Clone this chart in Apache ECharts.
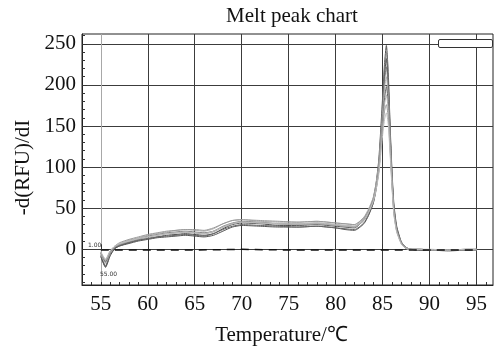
<!DOCTYPE html>
<html>
<head>
<meta charset="utf-8">
<script src="https://cdn.jsdelivr.net/npm/echarts@6/dist/echarts.min.js"></script>
<style>
html,body{margin:0;padding:0;background:#fff;}
#chart{width:500px;height:351px;}
</style>
</head>
<body>
<div id="chart"></div>
<script>
// ---- data ----
var temps = [55, 55.5, 56, 56.5, 57, 58, 59, 60, 61, 62, 63, 64, 65, 66, 67, 68, 69, 70, 72, 74, 76, 78, 80, 81, 82, 83, 83.5, 84, 84.3, 84.6, 84.9, 85.2, 85.4, 85.6, 85.8, 86, 86.2, 86.5, 87, 87.5, 88, 89, 90, 92, 94, 95];
var curve1 = [-9,-22,-8,1,4,8,11,13,15,17,18,19,18,17,19,25,30,32,31,29,29,30,28,27,26,36,46,62,80,110,165,225,248,215,150,95,55,28,9,2,0,-1,-1,-2,-1,-1];
var curve2 = [-7,-20,-6,2,5,9,12,15,17,19,20,21,20,19,22,28,32,34,33,31,31,32,30,29,28,37,47,60,78,105,158,218,240,208,145,90,52,26,8,1,0,0,-1,-1,-1,0];
var curve3 = [-8,-21,-6,1,4,7,10,12,14,15,16,17,16,15,17,22,27,29,28,27,27,28,26,24,23,31,41,56,74,102,153,210,232,200,140,88,50,25,8,2,0,-1,-1,-1,-1,-1];
var curve4 = [-5,-16,-4,3,6,10,13,16,18,20,21,22,21,20,22,27,31,33,32,31,30,31,29,28,27,35,45,60,77,103,150,205,222,195,140,88,50,26,8,2,0,0,-1,-1,0,0];
var curve5 = [-6,-17,-5,3,7,11,14,17,19,21,23,24,23,22,25,31,35,36,34,33,33,34,32,31,30,39,49,63,80,105,150,196,210,186,135,85,48,24,8,2,0,0,-1,-1,-1,-1];
var curve6 = [-4,-15,-3,2,5,8,11,13,15,16,17,18,17,16,19,24,28,30,29,28,27,28,26,25,24,32,42,56,72,96,140,183,198,178,130,82,47,24,7,1,0,-1,-1,-1,-1,0];
var curve7 = [-5,-14,-3,3,6,10,13,15,17,19,20,21,20,19,21,27,31,33,32,31,30,31,29,28,27,35,45,59,74,96,138,176,188,170,125,80,45,22,7,1,0,0,-1,-1,0,0];
var curve8 = [-4,-13,-2,4,8,12,15,18,20,22,23,24,24,23,26,31,35,36,35,34,33,34,32,31,30,38,47,60,75,96,134,168,176,160,120,78,44,22,7,1,0,0,-1,-1,-1,-1];
var curve9 = [-3,-12,-2,4,7,10,13,15,17,19,20,21,20,19,22,27,31,33,32,31,31,32,30,29,28,36,45,58,72,92,128,158,166,152,115,75,42,21,6,1,0,0,0,-1,0,0];
var curves = [curve1, curve2, curve3, curve4, curve5, curve6, curve7, curve8, curve9];
var curveColors = ['#4a4a4a', '#8a8a8a', '#555555', '#777777', '#aaaaaa', '#666666', '#b0b0b0', '#9a9a9a', '#bdbdbd'];
var negTemps = [55, 60, 65, 70, 75, 80, 85, 90, 95];
var negValues = [-1, -1, -1, 0, -1, -1, -1, -1, -1];
var xTicks = [55, 60, 65, 70, 75, 80, 85, 90, 95];
var xMinorTicks = [];
for (var t = 53; t <= 96; t++) xMinorTicks.push(t);
var yTicks = [0, 50, 100, 150, 200, 250];
var yMinorTicks = [];
for (var v = -40; v <= 260; v += 10) yMinorTicks.push(v);

var chartTitle = 'Melt peak chart';
var xName = 'Temperature/\u2103';
var yName = '-d(RFU)/dI';

function zip(xs, ys) { return xs.map(function (x, i) { return [x, ys[i]]; }); }

var serif = 'Liberation Serif';
var X_MIN = 53, X_MAX = 96.75, Y_MIN = -43.5, Y_MAX = 262;

var series = curves.map(function (c, i) {
  return {
    type: 'line', xAxisIndex: 0, yAxisIndex: 0, data: zip(temps, c),
    showSymbol: false, symbol: 'none', smooth: 0.2,
    lineStyle: { color: curveColors[i], width: 1 }, silent: true, z: 3
  };
});
series.push({
  type: 'line', xAxisIndex: 0, yAxisIndex: 0, data: zip(negTemps, negValues),
  symbol: 'none', lineStyle: { color: '#111', width: 1.5, type: [8, 6] }, z: 4, silent: true
});

var chart = echarts.init(document.getElementById('chart'), null, { renderer: 'canvas' });
chart.setOption({
  animation: false,
  backgroundColor: '#fff',
  title: {
    text: chartTitle, left: 287, top: 1, textAlign: 'center',
    textStyle: { fontFamily: serif, fontSize: 21, fontWeight: 'normal', color: '#111' }
  },
  grid: { left: 82, right: 7, top: 34, bottom: 64, show: true, borderColor: '#222', borderWidth: 1, backgroundColor: 'transparent' },
  xAxis: [
    {
      type: 'value', min: X_MIN, max: X_MAX, position: 'bottom',
      axisLine: { show: true, onZero: false, lineStyle: { color: '#222' } },
      axisTick: { show: true, inside: true, length: 3, customValues: xMinorTicks, lineStyle: { color: '#333' } },
      axisLabel: { show: false }, splitLine: { show: false }
    },
    {
      type: 'value', min: X_MIN, max: X_MAX, position: 'bottom',
      axisLine: { show: false },
      axisTick: { show: true, inside: true, length: 5, customValues: xTicks, lineStyle: { color: '#333' } },
      axisLabel: { customValues: xTicks, fontFamily: serif, fontSize: 21, color: '#111', margin: 9 },
      splitLine: { show: true, lineStyle: { color: ['#a8a8a8', '#3c3c3c', '#3c3c3c', '#3c3c3c', '#3c3c3c', '#3c3c3c', '#3c3c3c', '#3c3c3c', '#3c3c3c'], width: 1 } },
      name: xName, nameLocation: 'middle', nameGap: 40,
      nameTextStyle: { fontFamily: serif, fontSize: 21, color: '#111', padding: [0, 12, 0, 0] }
    }
  ],
  yAxis: [
    {
      type: 'value', min: Y_MIN, max: Y_MAX, position: 'left',
      axisLine: { show: true, onZero: false, lineStyle: { color: '#222' } },
      axisTick: { show: true, inside: true, length: 3, customValues: yMinorTicks, lineStyle: { color: '#333' } },
      axisLabel: { show: false }, splitLine: { show: false }
    },
    {
      type: 'value', min: Y_MIN, max: Y_MAX, position: 'left',
      axisLine: { show: false },
      axisTick: { show: true, inside: true, length: 5, customValues: yTicks, lineStyle: { color: '#333' } },
      axisLabel: { customValues: yTicks, fontFamily: serif, fontSize: 21, color: '#111', margin: 6 },
      splitLine: { show: true, lineStyle: { color: '#3c3c3c', width: 1 } },
      name: yName, nameLocation: 'middle', nameGap: 45, nameRotate: 90,
      nameTextStyle: { fontFamily: serif, fontSize: 21, color: '#111', padding: [0, 16, 0, 0] }
    }
  ],
  graphic: [
    { type: 'rect', left: 438, top: 39, shape: { width: 54, height: 8, r: 1.5 }, style: { fill: '#fff', stroke: '#333', lineWidth: 1 }, z: 10 },
    { type: 'text', left: 88, top: 242, style: { text: '1.00', font: '6px "DejaVu Sans"', fill: '#333' }, z: 10 },
    { type: 'text', left: 100, top: 271, style: { text: '55.00', font: '6px "DejaVu Sans"', fill: '#333' }, z: 10 }
  ],
  series: series
});
</script>
</body>
</html>
